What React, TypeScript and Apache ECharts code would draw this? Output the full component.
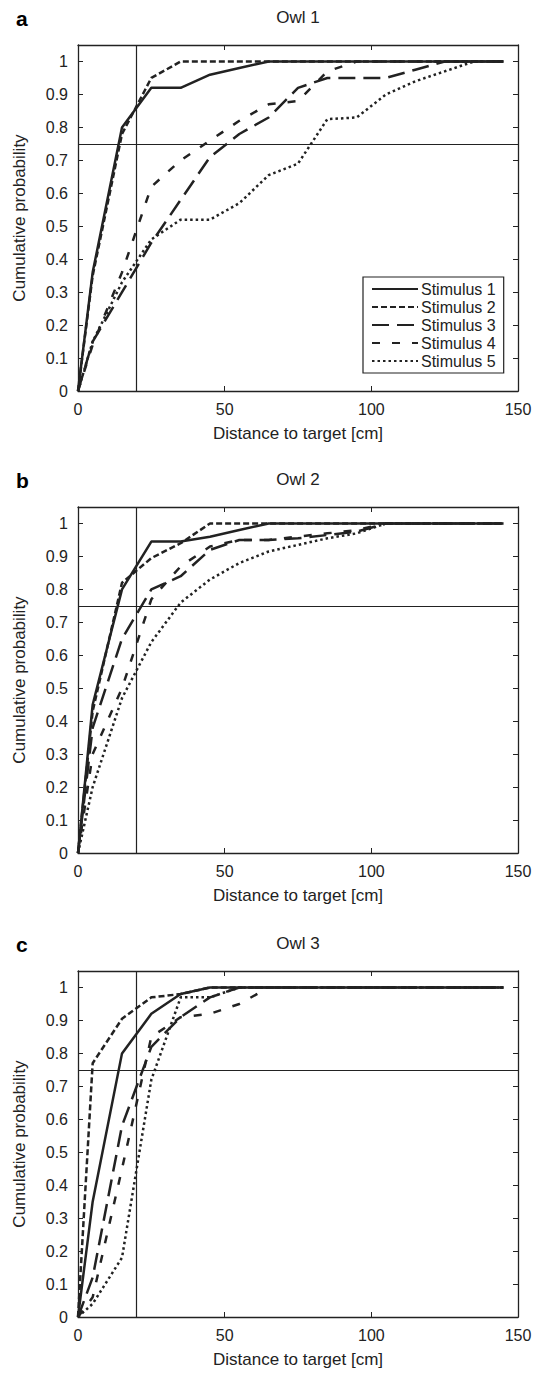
import React, { useEffect, useRef } from "react";
import * as echarts from "echarts";

const X = [0, 5, 15, 25, 35, 45, 55, 65, 75, 85, 95, 105, 115, 125, 135, 145];
const NAMES = ["Stimulus 1", "Stimulus 2", "Stimulus 3", "Stimulus 4", "Stimulus 5"];
const TITLES = ["Owl 1", "Owl 2", "Owl 3"];
const LETTERS = ["a", "b", "c"];
const X_TICKS = [0, 50, 100, 150];
const Y_TICKS = [0, 0.1, 0.2, 0.3, 0.4, 0.5, 0.6, 0.7, 0.8, 0.9, 1];

// Owl 1
const owl1S1 = [0, 0.36, 0.8, 0.92, 0.92, 0.96, 0.98, 1, 1, 1, 1, 1, 1, 1, 1, 1];
const owl1S2 = [0, 0.35, 0.78, 0.95, 1, 1, 1, 1, 1, 1, 1, 1, 1, 1, 1, 1];
const owl1S3 = [0, 0.15, 0.3, 0.45, 0.58, 0.71, 0.78, 0.83, 0.92, 0.95, 0.95, 0.95, 0.975, 1, 1, 1];
const owl1S4 = [0, 0.14, 0.36, 0.62, 0.7, 0.76, 0.82, 0.87, 0.88, 0.97, 1, 1, 1, 1, 1, 1];
const owl1S5 = [0, 0.15, 0.33, 0.46, 0.52, 0.52, 0.57, 0.655, 0.69, 0.825, 0.83, 0.9, 0.94, 0.97, 1, 1];
// Owl 2
const owl2S1 = [0, 0.45, 0.8, 0.945, 0.945, 0.96, 0.98, 1, 1, 1, 1, 1, 1, 1, 1, 1];
const owl2S2 = [0, 0.43, 0.82, 0.895, 0.94, 1, 1, 1, 1, 1, 1, 1, 1, 1, 1, 1];
const owl2S3 = [0, 0.38, 0.65, 0.8, 0.84, 0.92, 0.95, 0.95, 0.955, 0.965, 0.975, 1, 1, 1, 1, 1];
const owl2S4 = [0, 0.3, 0.5, 0.77, 0.87, 0.93, 0.95, 0.95, 0.96, 0.97, 0.98, 1, 1, 1, 1, 1];
const owl2S5 = [0, 0.2, 0.47, 0.64, 0.76, 0.83, 0.88, 0.915, 0.935, 0.955, 0.97, 1, 1, 1, 1, 1];
// Owl 3
const owl3S1 = [0, 0.35, 0.8, 0.92, 0.98, 1, 1, 1, 1, 1, 1, 1, 1, 1, 1, 1];
const owl3S2 = [0, 0.77, 0.905, 0.97, 0.98, 1, 1, 1, 1, 1, 1, 1, 1, 1, 1, 1];
const owl3S3 = [0, 0.12, 0.58, 0.82, 0.91, 0.97, 1, 1, 1, 1, 1, 1, 1, 1, 1, 1];
const owl3S4 = [0, 0.06, 0.45, 0.85, 0.91, 0.92, 0.95, 1, 1, 1, 1, 1, 1, 1, 1, 1];
const owl3S5 = [0, 0.04, 0.18, 0.72, 0.97, 0.97, 1, 1, 1, 1, 1, 1, 1, 1, 1, 1];

const PANELS = [
  [owl1S1, owl1S2, owl1S3, owl1S4, owl1S5],
  [owl2S1, owl2S2, owl2S3, owl2S4, owl2S5],
  [owl3S1, owl3S2, owl3S3, owl3S4, owl3S5],
];

const INK = "#222";
const FONT = "'Liberation Sans', Arial, Helvetica, sans-serif";
const DASHES: any[] = ["solid", [6, 3], [17, 8], [8, 12], [2.5, 3]];
const GRID_LEFT = 78;
const GRID_W = 440;
const GRID_H = 346;
const GRID_TOPS = [45, 507, 971];

export default function App() {
  const ref = useRef<HTMLDivElement>(null);
  useEffect(() => {
    document.body.style.margin = "0";
    const chart = echarts.init(ref.current!, null, { renderer: "svg" });
    const grids: any[] = [];
    const xAxes: any[] = [];
    const yAxes: any[] = [];
    const series: any[] = [];
    const titles: any[] = [];
    const graphics: any[] = [];
    const tickFmt = (v: number) => {
      const r = Math.round(v * 10) / 10;
      return Math.abs(v - r) < 1e-6 && r <= 1 ? String(r) : "";
    };
    GRID_TOPS.forEach((top, p) => {
      grids.push({ left: GRID_LEFT, top, width: GRID_W, height: GRID_H, show: false });
      const baseX = {
        type: "value", gridIndex: p, min: 0, max: 150, interval: 50,
        splitLine: { show: false },
        axisLine: { show: true, onZero: false, lineStyle: { color: INK, width: 1.3 } },
        axisTick: { show: true, inside: true, length: 5, lineStyle: { color: INK } },
      };
      xAxes.push({
        ...baseX, position: "bottom",
        axisLabel: { color: INK, fontSize: 16, fontFamily: FONT, margin: 10,
          formatter: (v: number) => (X_TICKS.includes(v) ? String(v) : "") },
        name: "Distance to target [cm]", nameLocation: "middle", nameGap: 34,
        nameTextStyle: { color: INK, fontSize: 17, fontFamily: FONT },
      });
      xAxes.push({ ...baseX, position: "top", axisLabel: { show: false } });
      const baseY = {
        type: "value", gridIndex: p, min: 0, max: 1.05, interval: 0.1,
        splitLine: { show: false },
        axisLine: { show: true, onZero: false, lineStyle: { color: INK, width: 1.3 } },
        axisTick: { show: true, inside: true, length: 5, lineStyle: { color: INK } },
      };
      yAxes.push({
        ...baseY, position: "left",
        axisLabel: { color: INK, fontSize: 16, fontFamily: FONT, margin: 10, showMaxLabel: false,
          formatter: (v: number) => (Y_TICKS.some((t) => Math.abs(t - v) < 1e-6) ? tickFmt(v) : "") },
        name: "Cumulative probability", nameLocation: "middle", nameGap: 50, nameRotate: 90,
        nameTextStyle: { color: INK, fontSize: 17, fontFamily: FONT },
      });
      yAxes.push({ ...baseY, position: "right", axisLabel: { show: false } });
      titles.push({
        text: TITLES[p], left: GRID_LEFT + GRID_W / 2, top: top - 36, textAlign: "center",
        padding: 0,
        textStyle: { color: INK, fontSize: 17, fontWeight: "normal", fontFamily: FONT },
      });
      graphics.push({
        type: "text", left: 16, top: top - 37,
        style: { text: LETTERS[p], fill: "#000", font: `bold 21px ${FONT}` },
      });
      PANELS[p].forEach((vals, s) => {
        const ser: any = {
          type: "line", name: NAMES[s], xAxisIndex: p * 2, yAxisIndex: p * 2,
          data: X.map((x, i) => [x, vals[i]]), symbol: "none", showSymbol: false,
          lineStyle: { color: INK, width: 2.5, type: DASHES[s] }, itemStyle: { color: INK },
          z: 5 - s,
        };
        if (s === 0) {
          ser.markLine = {
            silent: true, symbol: ["none", "none"], label: { show: false },
            lineStyle: { type: "solid", color: INK, width: 1.2 },
            data: [{ xAxis: 20 }, { yAxis: 0.75 }],
          };
        }
        series.push(ser);
      });
    });
    chart.setOption({
      animation: false,
      backgroundColor: "#fff",
      title: titles,
      grid: grids,
      xAxis: xAxes,
      yAxis: yAxes,
      series,
      graphic: graphics,
      legend: {
        data: NAMES, orient: "vertical", left: 363, top: 277,
        backgroundColor: "#fff", borderColor: INK, borderWidth: 1.2,
        padding: [4, 8, 4, 8], itemGap: 2, itemWidth: 46, itemHeight: 16,
        itemStyle: { color: "rgba(0,0,0,0)", borderColor: "rgba(0,0,0,0)", borderWidth: 0, opacity: 0 },
        textStyle: { color: INK, fontSize: 16, fontFamily: FONT, padding: [0, 0, 0, -2] },
        selectedMode: false,
      },
    });
    return () => chart.dispose();
  }, []);
  return <div ref={ref} style={{ width: 537, height: 1374 }} />;
}
